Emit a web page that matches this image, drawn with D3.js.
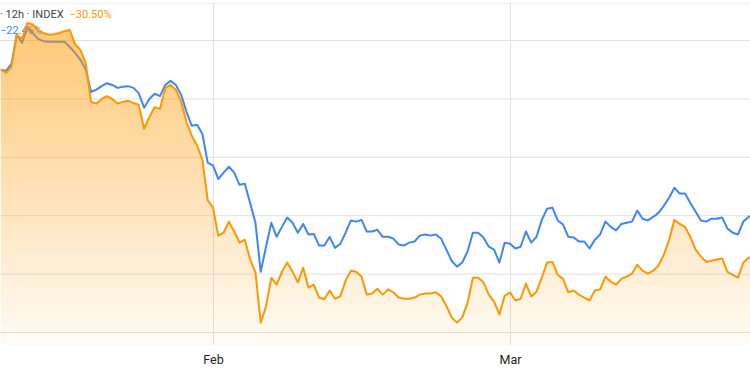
<!DOCTYPE html>
<html>
<head>
<meta charset="utf-8">
<script src="https://cdn.jsdelivr.net/npm/d3@7"></script>
<style>
  html, body { margin: 0; padding: 0; background: #fff; }
  svg { display: block; font-family: "Trebuchet MS", Roboto, sans-serif; }
</style>
</head>
<body>
<div id="chart"></div>
<script>
// % change, 12h bars from Jan 12 (index = orange, comparison = blue)
const startDate = Date.UTC(2023, 0, 12);
const stepMs = 12 * 3600 * 1000;

const orangeVals = [
  4.9, 4.4, 5.4, 10.9, 10.2, 12.9, 12.7, 11.7, 11.2, 10.9,
  11.0, 11.2, 11.5, 11.7, 9.3, 8.3, 6.1, -0.6, -0.9, -0.1,
  0.4, -0.1, -0.9, -0.6, -0.4, -0.8, -1.1, -5.2, -3.2, -1.5,
  -1.8, 1.8, 2.3, 1.5, -0.6, -4.0, -6.4, -8.1, -10.5, -17.4,
  -18.7, -23.5, -23.0, -21.1, -22.8, -24.7, -24.2, -27.6, -29.8, -38.4,
  -35.6, -30.7, -31.9, -29.7, -28.1, -29.7, -31.5, -29.0, -32.4, -31.9,
  -34.1, -34.4, -32.9, -34.3, -33.9, -31.2, -29.5, -29.7, -30.5, -33.6,
  -33.4, -32.6, -33.6, -32.7, -33.2, -34.1, -34.3, -34.3, -34.1, -33.6,
  -33.4, -33.4, -33.2, -33.9, -35.5, -37.5, -38.4, -37.5, -35.0, -30.7,
  -30.7, -31.5, -33.6, -34.8, -37.0, -33.8, -33.2, -34.6, -34.3, -31.7,
  -33.9, -33.1, -30.7, -28.1, -28.0, -30.2, -30.9, -33.2, -32.9, -33.6,
  -34.1, -34.6, -32.9, -32.7, -30.5, -31.4, -31.9, -30.9, -30.5, -30.0,
  -28.5, -29.5, -30.0, -29.5, -28.6, -26.8, -24.2, -20.8, -21.5, -22.0,
  -23.7, -25.9, -27.1, -28.0, -27.8, -27.6, -27.4, -29.7, -30.2, -30.7,
  -28.1, -27.3, -26.9
];

const blueVals = [
  4.9, 4.7, 5.9, 10.9, 9.5, 12.2, 11.2, 10.2, 9.8, 9.7,
  9.7, 9.7, 9.7, 8.8, 7.8, 6.6, 5.0, 1.1, 1.5, 2.1,
  2.6, 2.3, 1.8, 2.0, 2.1, 1.8, 0.9, -1.6, -0.1, 0.8,
  0.4, 2.3, 3.0, 2.3, 0.6, -2.3, -4.7, -4.5, -6.1, -11.0,
  -11.5, -13.8, -12.7, -11.7, -12.7, -14.8, -14.6, -17.9, -21.3, -29.7,
  -25.4, -21.3, -23.7, -22.0, -20.4, -21.3, -23.0, -21.5, -23.3, -23.2,
  -25.2, -25.2, -23.7, -25.6, -24.9, -23.0, -20.9, -21.1, -20.8, -22.8,
  -22.8, -22.5, -23.7, -23.7, -24.0, -25.0, -25.2, -24.7, -24.5, -23.5,
  -23.3, -23.5, -23.3, -24.0, -25.9, -27.8, -28.8, -28.1, -26.2, -23.0,
  -23.0, -23.8, -25.4, -25.9, -28.1, -24.7, -24.9, -25.7, -25.4, -22.8,
  -24.7, -23.7, -20.8, -18.9, -18.7, -20.9, -21.6, -23.7, -23.8, -24.5,
  -24.5, -25.7, -24.2, -23.3, -21.1, -22.0, -22.6, -21.5, -21.3, -21.1,
  -19.2, -20.6, -20.9, -20.3, -19.6, -18.4, -17.0, -15.3, -16.3, -16.3,
  -17.9, -19.4, -20.9, -21.1, -20.6, -20.6, -20.4, -22.3, -23.0, -23.3,
  -21.1, -20.3, -19.9
];

const gridVals = [10, 0, -10, -20, -30, -40];
const monthTicks = [new Date(Date.UTC(2023, 1, 1)), new Date(Date.UTC(2023, 2, 1))];
const legendTitle = "· 12h · INDEX";
const legendOrange = "−30.50%";
const legendBlue = "−22.46%";

const w = 750;
const h = 375;
const plotBottom = 345;

// Feb 1 sits at x=213, Mar 1 at x=510
const febX = 213, marX = 510;
const msPerPx = (monthTicks[1] - monthTicks[0]) / (marX - febX);
const xScale = d3.scaleUtc()
  .domain([new Date(+monthTicks[0] - febX * msPerPx), new Date(+monthTicks[0] + (w - febX) * msPerPx)])
  .range([0, w]);

const yScale = d3.scaleLinear()
  .domain([-40, 10])
  .range([332, 40]);

const orange = orangeVals.map((v, i) => ({ t: new Date(startDate + i * stepMs), v }));
const blue = blueVals.map((v, i) => ({ t: new Date(startDate + i * stepMs), v }));

const svg = d3.select("#chart")
  .append("svg")
  .attr("width", w)
  .attr("height", h);

const defs = svg.append("defs");
const grad = defs.append("linearGradient")
  .attr("id", "fillGrad")
  .attr("gradientUnits", "userSpaceOnUse")
  .attr("x1", 0).attr("y1", 0).attr("x2", 0).attr("y2", plotBottom);
grad.append("stop").attr("offset", "0%").attr("stop-color", "#ff9800").attr("stop-opacity", 0.58);
grad.append("stop").attr("offset", "100%").attr("stop-color", "#ff9800").attr("stop-opacity", 0.04);

defs.append("clipPath").attr("id", "plotClip")
  .append("rect").attr("x", 0).attr("y", 0).attr("width", w).attr("height", plotBottom);

// top border
svg.append("line")
  .attr("x1", 0).attr("x2", w).attr("y1", 3.5).attr("y2", 3.5)
  .attr("stroke", "#eeeeee");

// horizontal gridlines
const yGrid = svg.append("g")
  .call(d3.axisLeft(yScale).tickValues(gridVals).tickSize(-w).tickFormat(""));
yGrid.select(".domain").remove();
yGrid.selectAll("line").attr("stroke", "#e1e1e1");

// vertical gridlines + month labels
const xAxis = svg.append("g")
  .attr("transform", "translate(0," + plotBottom + ")")
  .call(d3.axisBottom(xScale).tickValues(monthTicks).tickSize(-(plotBottom - 4)).tickPadding(10).tickFormat(d3.utcFormat("%b")));
xAxis.select(".domain").remove();
xAxis.selectAll("line").attr("stroke", "#e1e1e1");
xAxis.selectAll("text")
  .attr("fill", "#222")
  .style("font-size", "12.5px")
  .style("font-family", "\"Trebuchet MS\", Roboto, sans-serif");

// legend (sits under the area, as in the source)
const legend = svg.append("g").style("font-size", "11px");
const row1 = legend.append("text").attr("x", 0).attr("y", 18);
row1.append("tspan").attr("fill", "#444").text(legendTitle);
row1.append("tspan").attr("fill", "#ff9800").attr("dx", 6).text(legendOrange);
legend.append("text").attr("x", 0).attr("y", 34).attr("fill", "#3f86f5").text(legendBlue);

const plot = svg.append("g").attr("clip-path", "url(#plotClip)");

const line = d3.line()
  .x(d => xScale(d.t))
  .y(d => yScale(d.v));

const area = d3.area()
  .x(d => xScale(d.t))
  .y0(plotBottom)
  .y1(d => yScale(d.v));

plot.append("path")
  .datum(blue)
  .attr("fill", "none")
  .attr("stroke", "#3f86f5")
  .attr("stroke-width", 2)
  .attr("stroke-linejoin", "round")
  .attr("d", line);

plot.append("path")
  .datum(orange)
  .attr("fill", "url(#fillGrad)")
  .attr("d", area);

plot.append("path")
  .datum(orange)
  .attr("fill", "none")
  .attr("stroke", "#ff9800")
  .attr("stroke-width", 2)
  .attr("stroke-linejoin", "round")
  .attr("d", line);
</script>
</body>
</html>
